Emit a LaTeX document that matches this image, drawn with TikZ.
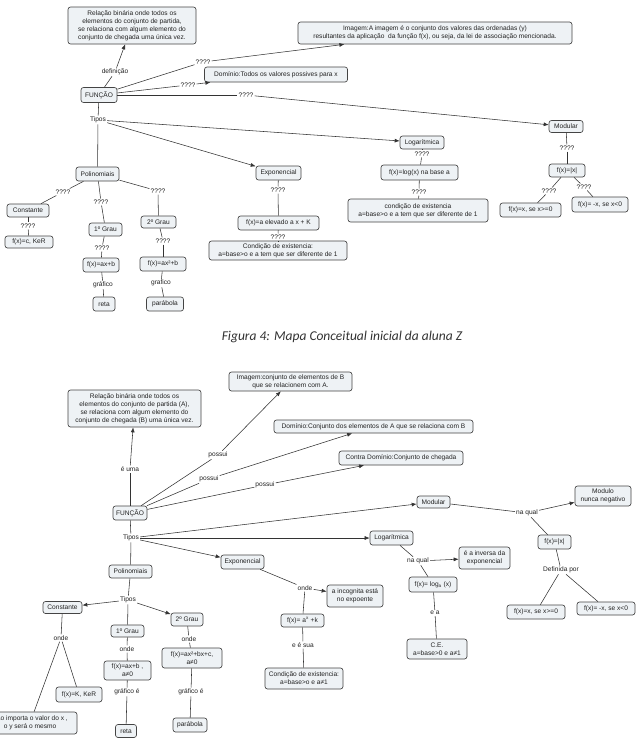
\documentclass[tikz,border=0pt]{standalone}
\usepackage{fontspec}
\setmainfont{Liberation Sans}
\newfontfamily\capfont{Carlito}
\usetikzlibrary{arrows.meta}
\definecolor{boxfill}{HTML}{EEF2F5}
\definecolor{edgec}{HTML}{444444}
\definecolor{ink}{HTML}{222222}
\definecolor{linec}{HTML}{333333}
\newcommand\mybx[5]{\node[cbox,minimum width=#3,minimum height=#4] (#1) at (#2) {#5};}
\newcommand\mylb[3]{\node[clab] (#1) at (#2) {#3};}
\begin{document}
\begin{tikzpicture}[x=1pt,y=-1pt,
  cbox/.style={draw=edgec,line width=0.65pt,rounded corners=2.5pt,fill=boxfill,inner sep=1pt,align=center,text=ink,font=\fontsize{6.6}{7.9}\selectfont},
  clab/.style={inner sep=1pt,text=ink,font=\fontsize{6.6}{7.9}\selectfont},
  conn/.style={draw=linec,line width=0.55pt},
  arr/.style={conn,-{Latex[length=5pt,width=4pt]}}]
\fill[white] (0,0) rectangle (636,744);
\useasboundingbox (0,0) rectangle (636,744);

% ================= TOP MAP =================
\mybx{tdef}{132,25.5}{128pt}{37pt}{Relação binária onde todos os\\elementos do conjunto de partida,\\se relaciona com algum elemento do\\conjunto de chegada uma única vez.}
\mybx{tfun}{99,95}{36pt}{15pt}{FUNÇÃO}
\mylb{tldef}{115,72}{definição}
\mybx{timg}{435,33}{274pt}{22pt}{Imagem:A imagem é o conjunto dos valores das ordenadas (y)\\resultantes da aplicação\ \ da função f(x), ou seja, da lei de associação mencionada.}
\mylb{tq1}{203,62}{????}
\mybx{tdom}{276,74.5}{143pt}{15pt}{Domínio:Todos os valores possives para x}
\mylb{tq2}{188,85}{????}
\mylb{tq3}{246,95}{????}
\mybx{tmod}{566,126.5}{34pt}{12pt}{Modular}
\mylb{ttip}{98,120}{Tipos}
\mybx{tlog}{422,142.5}{44pt}{13pt}{Logarítmica}
\mybx{texp}{278.5,173}{45pt}{14pt}{Exponencial}
\mybx{tpol}{97.5,174}{43pt}{14pt}{Polinomiais}
\mylb{tq4}{63,192}{????}
\mybx{tcon}{28,210.5}{42pt}{13pt}{Constante}
\mylb{tq5}{101,202}{????}
\mybx{tg1}{105.5,229.5}{33pt}{13pt}{1º Grau}
\mylb{tq6}{158,191}{????}
\mybx{tg2}{158.5,222}{35pt}{12pt}{2º Grau}
\mylb{tq7}{28,226}{????}
\mybx{tfc}{29,242}{48pt}{12pt}{f(x)=c, KeR}
\mylb{tq8}{102,248}{????}
\mybx{tfa}{101,265}{36pt}{14pt}{f(x)=ax+b}
\mylb{tgr1}{103,285}{gráfico}
\mybx{treta}{104,304}{22pt}{14pt}{reta}
\mylb{tq9}{163,241}{????}
\mybx{tf2}{163,264}{46pt}{14pt}{f(x)=ax²+b}
\mylb{tgr2}{161,283}{grafico}
\mybx{tpar}{165,304}{37pt}{14pt}{parábola}
\mylb{tq10}{278,190}{????}
\mybx{tfexp}{278.5,223}{81pt}{14pt}{f(x)=a elevado a x + K}
\mylb{tq11}{278,237}{????}
\mybx{tcexp}{278,250.5}{138pt}{19pt}{Condição de existencia:\\a=base>o e a tem que ser diferente de 1}
\mylb{tq12}{422,154}{????}
\mybx{tflog}{419.5,172.5}{77pt}{15pt}{f(x)=log(x) na base a}
\mylb{tq13}{419,192}{????}
\mybx{tclog}{418,210.5}{140pt}{23pt}{condição de existencia\\a=base>o e a tem que ser diferente de 1}
\mylb{tq14}{567,148}{????}
\mybx{tfmod}{567,170.5}{36pt}{13pt}{f(x)=|x|}
\mylb{tq15}{549,191}{????}
\mybx{tfm1}{530.5,210}{61pt}{14pt}{f(x)=x, se x>=0}
\mylb{tq16}{584,187}{????}
\mybx{tfm2}{600,204.5}{56pt}{15pt}{f(x)= -x, se x<0}

\draw[conn] (tfun) -- (tldef); \draw[arr] (tldef) -- (tdef);
\draw[conn] (tfun) -- (tq1); \draw[arr] (tq1) -- (timg);
\draw[conn] (tfun) -- (tq2); \draw[arr] (tq2) -- (tdom);
\draw[conn] (tfun) -- (tq3); \draw[arr] (tq3) -- (tmod);
\draw[conn] (tfun) -- (ttip);
\draw[arr] (ttip) -- (tlog);
\draw[arr] (ttip) -- (texp);
\draw[conn] (ttip) -- (tpol);
\draw[conn] (tpol) -- (tq4); \draw[conn] (tq4) -- (tcon);
\draw[conn] (tpol) -- (tq5); \draw[conn] (tq5) -- (tg1);
\draw[conn] (tpol) -- (tq6); \draw[conn] (tq6) -- (tg2);
\draw[conn] (tcon) -- (tq7); \draw[conn] (tq7) -- (tfc);
\draw[conn] (tg1) -- (tq8); \draw[conn] (tq8) -- (tfa);
\draw[conn] (tfa) -- (tgr1); \draw[conn] (tgr1) -- (treta);
\draw[conn] (tg2) -- (tq9); \draw[conn] (tq9) -- (tf2);
\draw[conn] (tf2) -- (tgr2); \draw[conn] (tgr2) -- (tpar);
\draw[conn] (texp) -- (tq10); \draw[conn] (tq10) -- (tfexp);
\draw[conn] (tfexp) -- (tq11); \draw[conn] (tq11) -- (tcexp);
\draw[conn] (tlog) -- (tq12); \draw[conn] (tq12) -- (tflog);
\draw[conn] (tflog) -- (tq13); \draw[conn] (tq13) -- (tclog);
\draw[conn] (tmod) -- (tq14); \draw[conn] (tq14) -- (tfmod);
\draw[conn] (tfmod) -- (tq15); \draw[conn] (tq15) -- (tfm1);
\draw[conn] (tfmod) -- (tq16); \draw[conn] (tq16) -- (tfm2);

% caption
\node[text=black!80,font=\capfont\itshape\fontsize{13.5}{16}\selectfont] (cap) at (342,337) {Figura 4: Mapa Conceitual inicial da aluna Z};

% ================= BOTTOM MAP =================
\mybx{bdef}{134.5,408.5}{133pt}{37pt}{Relação binária onde todos os\\elementos do conjunto de partida (A),\\se relaciona com algum elemento do\\conjunto de chegada (B) uma única vez.}
\mybx{bfun}{130,513}{34pt}{14pt}{FUNÇÃO}
\mylb{bluma}{130,469}{é uma}
\mybx{bimg}{290.5,381.5}{123pt}{19pt}{Imagem:conjunto de elementos de B\\que se relacionem com A.}
\mylb{bp1}{218,455}{possui}
\mybx{bdom}{373.5,426.5}{199pt}{13pt}{Domínio:Conjunto dos elementos de A que se relaciona com B}
\mylb{bp2}{209,479}{possui}
\mybx{bcdom}{401,458}{124pt}{14pt}{Contra Domínio:Conjunto de chegada}
\mylb{bp3}{265,485}{possui}
\mylb{btip}{131,538}{Tipos}
\mybx{bmod}{433.5,502}{33pt}{12pt}{Modular}
\mybx{blog}{391.5,538}{43pt}{14pt}{Logarítmica}
\mybx{bexp}{242.5,562}{43pt}{14pt}{Exponencial}
\mybx{bpol}{130.5,571.5}{43pt}{13pt}{Polinomiais}
\mylb{btip2}{128,600}{Tipos}
\mybx{bcon}{62.5,607.5}{39pt}{12pt}{Constante}
\mybx{bg1}{127.5,631}{33pt}{12pt}{1º Grau}
\mybx{bg2}{187,619.5}{32pt}{13pt}{2º Grau}
\mylb{bonde1}{61,638}{onde}
\mybx{bfk}{79,694.5}{46pt}{15pt}{f(x)=K, KeR}
\mybx{bnao}{30,723}{94pt}{22pt}{Não importa o valor do x ,\\o y será o mesmo}
\mylb{bonde2}{127,649}{onde}
\mybx{bfa}{127.5,670.5}{47pt}{19pt}{f(x)=ax+b ,\\a≠0}
\mylb{bgr1}{127,692}{gráfico é}
\mybx{breta}{126,731}{21pt}{13pt}{reta}
\mylb{bonde3}{189,639}{onde}
\mybx{bf2}{192,658}{60pt}{20pt}{f(x)=ax²+bx+c,\\a≠0}
\mylb{bgr2}{191,692}{gráfico é}
\mybx{bpar}{190,725}{34pt}{14pt}{parábola}
\mylb{bonde4}{305,588}{onde}
\mybx{binc}{355,596}{56pt}{22pt}{a incognita está\\no expoente}
\mybx{bfexp}{302.5,620.5}{43pt}{13pt}{f(x)= a\textsuperscript{x} +k}
\mylb{besua}{303,645}{e é sua}
\mybx{bcexp}{304,678.5}{78pt}{21pt}{Condição de existencia:\\a=base>o e a≠1}
\mylb{bnq1}{418,561}{na qual}
\mybx{binv}{484.5,558}{51pt}{22pt}{é a inversa da\\exponencial}
\mybx{bflog}{433,584.5}{48pt}{15pt}{f(x)= log\textsubscript{a} (x)}
\mylb{bea}{435,613}{e a}
\mybx{bce}{437,649}{60pt}{20pt}{C.E.\\a=base>0 e a≠1}
\mylb{bnq2}{527,513}{na qual}
\mybx{bmn}{603,496}{56pt}{20pt}{Modulo\\nunca negativo}
\mybx{bfmod}{554.5,542}{33pt}{14pt}{f(x)=|x|}
\mylb{bdef2}{561,570}{Definida por}
\mybx{bfm1}{536,612}{58pt}{14pt}{f(x)=x, se x>=0}
\mybx{bfm2}{606,608.5}{58pt}{13pt}{f(x)= -x, se x<0}

\draw[conn] (bfun) -- (bluma); \draw[arr] (bluma) -- (bdef);
\draw[conn] (bfun) -- (bp1); \draw[arr] (bp1) -- (bimg);
\draw[conn] (bfun) -- (bp2); \draw[arr] (bp2) -- (bdom);
\draw[conn] (bfun) -- (bp3); \draw[arr] (bp3) -- (bcdom);
\draw[conn] (bfun) -- (btip);
\draw[arr] (btip) -- (bmod);
\draw[arr] (btip) -- (blog);
\draw[arr] (btip) -- (bexp);
\draw[conn] (btip) -- (bpol);
\draw[conn] (bpol) -- (btip2);
\draw[arr] (btip2) -- (bcon);
\draw[conn] (btip2) -- (bg1);
\draw[arr] (btip2) -- (bg2);
\draw[conn] (bcon) -- (bonde1);
\draw[conn] (bonde1) -- (bfk);
\draw[conn] (bonde1) -- (bnao);
\draw[conn] (bg1) -- (bonde2); \draw[conn] (bonde2) -- (bfa);
\draw[conn] (bfa) -- (bgr1); \draw[conn] (bgr1) -- (breta);
\draw[conn] (bg2) -- (bonde3); \draw[conn] (bonde3) -- (bf2);
\draw[conn] (bf2) -- (bgr2); \draw[conn] (bgr2) -- (bpar);
\draw[conn] (bexp) -- (bonde4); \draw[arr] (bonde4) -- (binc);
\draw[conn] (bonde4) -- (bfexp);
\draw[conn] (bfexp) -- (besua); \draw[conn] (besua) -- (bcexp);
\draw[conn] (blog) -- (bnq1); \draw[arr] (bnq1) -- (binv);
\draw[conn] (bnq1) -- (bflog);
\draw[conn] (bflog) -- (bea); \draw[conn] (bea) -- (bce);
\draw[conn] (bmod) -- (bnq2); \draw[arr] (bnq2) -- (bmn);
\draw[conn] (bnq2) -- (bfmod);
\draw[conn] (bfmod) -- (bdef2);
\draw[conn] (bdef2) -- (bfm1);
\draw[conn] (bdef2) -- (bfm2);
\end{tikzpicture}
\end{document}
